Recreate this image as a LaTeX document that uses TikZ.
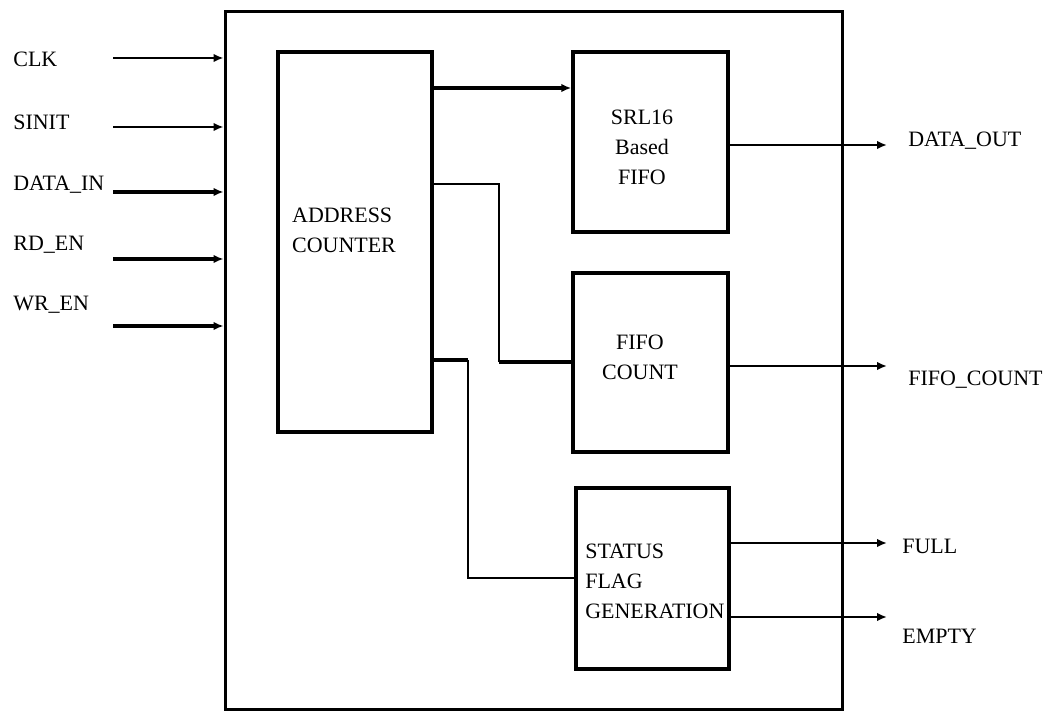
\documentclass[tikz,border=0pt]{standalone}
\usepackage{fontspec}
\setmainfont{Liberation Serif}
\usetikzlibrary{arrows.meta}

\begin{document}
\begin{tikzpicture}[x=0.02cm,y=-0.02cm,
  every node/.style={font=\fontsize{12.5}{17}\selectfont},
  outerbox/.style={draw,line width=1.7pt,minimum width=12.36cm,minimum height=13.98cm},
  block/.style={draw,line width=2pt,minimum width=3.1cm,inner sep=2pt},
  wire/.style={line width=1.6pt},
  bus/.style={line width=2.5pt},
  tip/.style={-{Latex[length=2mm,width=1.7mm]}},
  pin/.style={anchor=west,inner sep=0pt}]
\useasboundingbox (0,0) rectangle (1050,712);
\node[outerbox] (top) at (534,360.5) {};
\node[block,minimum width=3.08cm,minimum height=7.6cm] (ac) at (355,242) {};
\node[block,minimum height=3.6cm] (srl) at (650.5,142) {};
\node[block,minimum height=3.58cm] (cnt) at (650.5,362.5) {};
\node[block,minimum width=3.06cm,minimum height=3.62cm] (stat) at (652.5,578.5) {};
\node[align=left,inner sep=0pt] (actext) at (344,230) {ADDRESS\\COUNTER};
\node[align=center,inner sep=0pt] (srltext) at (642,147) {SRL16\\Based\\FIFO};
\node[align=center,inner sep=0pt] (cnttext) at (640,357) {FIFO\\COUNT};
\node[align=left,inner sep=0pt,anchor=west] (stattext) at (585,581) {STATUS\\FLAG\\GENERATION};
\node[pin] (clk) at (13,59) {CLK};
\node[pin] (sinit) at (13,122) {SINIT};
\node[pin] (din) at (13,185) {DATA\_IN};
\node[pin] (rden) at (13,245) {RD\_EN};
\node[pin] (wren) at (13,305) {WR\_EN};
\coordinate (clkin) at (113,58);
\coordinate (sinitin) at (113,127);
\coordinate (dinin) at (113,192);
\coordinate (rdenin) at (113,259);
\coordinate (wrenin) at (113,326);
\draw[wire,tip] (clkin) -- (clkin -| top.west);
\draw[wire,tip] (sinitin) -- (sinitin -| top.west);
\draw[bus,tip] (dinin) -- (dinin -| top.west);
\draw[bus,tip] (rdenin) -- (rdenin -| top.west);
\draw[bus,tip] (wrenin) -- (wrenin -| top.west);
\draw[bus,tip] (ac.east |- 0,88) -- (srl.west |- 0,88);
\coordinate (cntbend) at (499,362);
\draw[wire] (ac.east |- 0,184) -| (cntbend);
\draw[bus] (cntbend) -- (cnt.west |- cntbend);
\coordinate (statbend) at (468,360);
\draw[bus] (ac.east |- statbend) -- (statbend);
\draw[wire] (statbend) |- (stat.west |- 0,578);
\node[pin] (dout) at (908,141) {DATA\_OUT};
\node[pin] (fcount) at (908,380) {FIFO\_COUNT};
\node[pin] (full) at (902,546) {FULL};
\node[pin] (empty) at (902,636) {EMPTY};
\coordinate (doutend) at (887,145);
\coordinate (fcountend) at (887,366);
\coordinate (fullend) at (887,543);
\coordinate (emptyend) at (887,617);
\draw[wire,tip] (srl.east |- doutend) -- (doutend);
\draw[wire,tip] (cnt.east |- fcountend) -- (fcountend);
\draw[wire,tip] (stat.east |- fullend) -- (fullend);
\draw[wire,tip] (stat.east |- emptyend) -- (emptyend);
\end{tikzpicture}
\end{document}
